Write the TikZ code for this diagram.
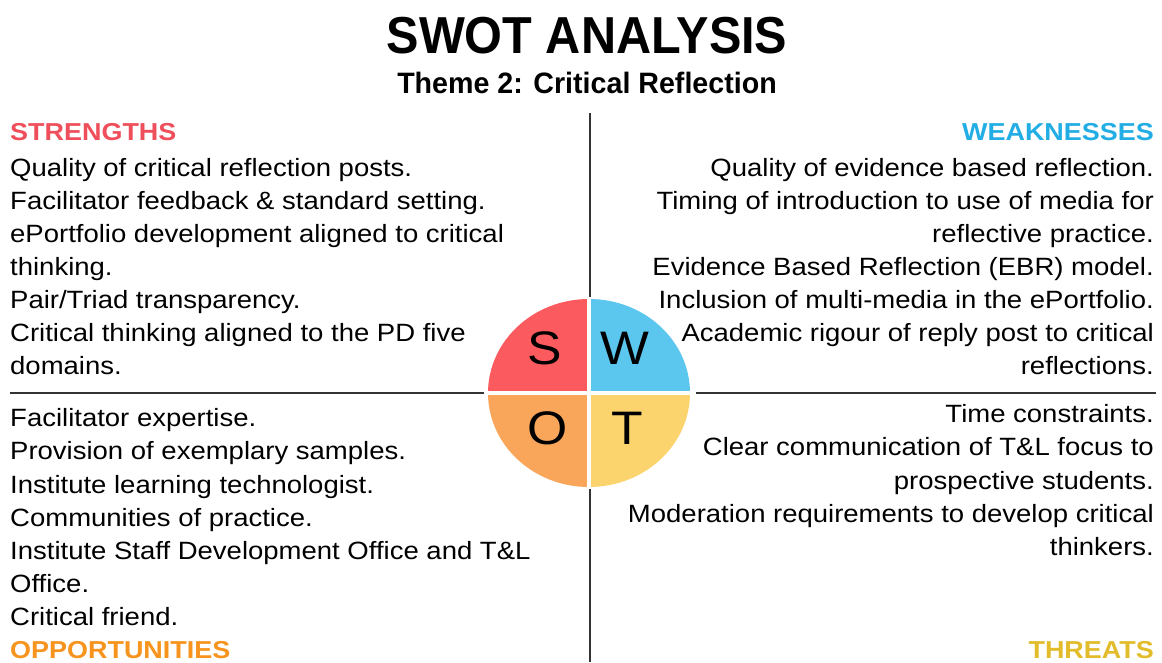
\documentclass[tikz,border=0pt]{standalone}
\usepackage{fontspec}
\setmainfont{Liberation Sans}
\newfontfamily\bodyfont[FakeStretch=1.1]{Liberation Sans}
\newfontfamily\titlefont[FakeStretch=0.935]{Liberation Sans}
\newfontfamily\subfont[FakeStretch=0.97]{Liberation Sans}
\definecolor{sred}{HTML}{FB5B5F}
\definecolor{wblue}{HTML}{5BC6EE}
\definecolor{oorange}{HTML}{F9A65A}
\definecolor{tyellow}{HTML}{FCD46E}
\definecolor{hred}{HTML}{EE4F5B}
\definecolor{hblue}{HTML}{22AEE4}
\definecolor{horange}{HTML}{F7941E}
\definecolor{hyellow}{HTML}{E2BC2A}
\definecolor{rule}{HTML}{333333}
\tikzset{
  bodyL/.style={anchor=base west,inner sep=0pt,font=\bodyfont\fontsize{25}{30}\selectfont},
  bodyR/.style={anchor=base east,inner sep=0pt,font=\bodyfont\fontsize{25}{30}\selectfont},
  headL/.style={anchor=base west,inner sep=0pt,font=\bodyfont\bfseries\fontsize{24.5}{30}\selectfont},
  headR/.style={anchor=base east,inner sep=0pt,font=\bodyfont\bfseries\fontsize{24.5}{30}\selectfont},
  letter/.style={inner sep=0pt,font=\bodyfont\fontsize{47}{50}\selectfont},
  divider/.style={draw=rule,line width=1.6pt},
  quad/.style={draw=white,line width=4pt},
}
\begin{document}
\begin{tikzpicture}[x=1pt,y=-1pt]
\useasboundingbox[fill=white] (0,0) rectangle (1162,662);
% title
\node[anchor=base,inner sep=0pt,font=\titlefont\bfseries\fontsize{52}{56}\selectfont] (title) at (587,53) {SWOT ANALYSIS};
\node[anchor=base,inner sep=0pt,font=\subfont\bfseries\fontsize{29.5}{32}\selectfont] (subtitle) at (587,93) {Theme 2: Critical Reflection};
% dividers
\coordinate (vtop) at (590,113);
\coordinate (vbot) at (590,662);
\coordinate (hl1) at (10,393);
\coordinate (hl2) at (484,393);
\coordinate (hr1) at (696,393);
\coordinate (hr2) at (1156,393);
\draw[divider] (vtop) -- (vbot);
\draw[divider] (hl1) -- (hl2);
\draw[divider] (hr1) -- (hr2);
% circle
\coordinate (c) at (589,393);
\fill[wblue] (c) -- ++(0,-94) arc[start angle=270,end angle=360,x radius=101,y radius=94] -- cycle;
\fill[sred] (c) -- ++(-101,0) arc[start angle=180,end angle=270,x radius=101,y radius=94] -- cycle;
\fill[oorange] (c) -- ++(-101,0) arc[start angle=180,end angle=90,x radius=101,y radius=94] -- cycle;
\fill[tyellow] (c) -- ++(101,0) arc[start angle=0,end angle=90,x radius=101,y radius=94] -- cycle;
\coordinate (qt) at (589,297);
\coordinate (qb) at (589,489);
\coordinate (ql) at (486,393);
\coordinate (qr) at (692,393);
\draw[quad] (qt) -- (qb);
\draw[quad] (ql) -- (qr);
\node[letter] (S) at (545,348) {S};
\node[letter] (W) at (625,348) {W};
\node[letter] (O) at (548,428) {O};
\node[letter] (T) at (627,428) {T};
% strengths
\node[headL,text=hred] (sh) at (10,140) {STRENGTHS};
\node[bodyL] (s1) at (10,176) {Quality of critical reflection posts.};
\node[bodyL] (s2) at (10,209) {Facilitator feedback \& standard setting.};
\node[bodyL] (s3) at (10,242) {ePortfolio development aligned to critical};
\node[bodyL] (s4) at (10,275) {thinking.};
\node[bodyL] (s5) at (10,308) {Pair/Triad transparency.};
\node[bodyL] (s6) at (10,341) {Critical thinking aligned to the PD five};
\node[bodyL] (s7) at (10,374) {domains.};
% weaknesses
\node[headR,text=hblue] (wh) at (1154,140) {WEAKNESSES};
\node[bodyR] (w1) at (1154,176) {Quality of evidence based reflection.};
\node[bodyR] (w2) at (1154,209) {Timing of introduction to use of media for};
\node[bodyR] (w3) at (1154,242) {reflective practice.};
\node[bodyR] (w4) at (1154,275) {Evidence Based Reflection (EBR) model.};
\node[bodyR] (w5) at (1154,308) {Inclusion of multi-media in the ePortfolio.};
\node[bodyR] (w6) at (1154,341) {Academic rigour of reply post to critical};
\node[bodyR] (w7) at (1154,374) {reflections.};
% opportunities
\node[bodyL] (o1) at (10,426) {Facilitator expertise.};
\node[bodyL] (o2) at (10,459) {Provision of exemplary samples.};
\node[bodyL] (o3) at (10,493) {Institute learning technologist.};
\node[bodyL] (o4) at (10,526) {Communities of practice.};
\node[bodyL] (o5) at (10,559) {Institute Staff Development Office and T\&L};
\node[bodyL] (o6) at (10,592) {Office.};
\node[bodyL] (o7) at (10,625) {Critical friend.};
\node[headL,text=horange] (oh) at (10,658) {OPPORTUNITIES};
% threats
\node[bodyR] (t1) at (1154,422) {Time constraints.};
\node[bodyR] (t2) at (1154,455) {Clear communication of T\&L focus to};
\node[bodyR] (t3) at (1154,489) {prospective students.};
\node[bodyR] (t4) at (1154,522) {Moderation requirements to develop critical};
\node[bodyR] (t5) at (1154,555) {thinkers.};
\node[headR,text=hyellow] (th) at (1154,658) {THREATS};
\end{tikzpicture}
\end{document}
